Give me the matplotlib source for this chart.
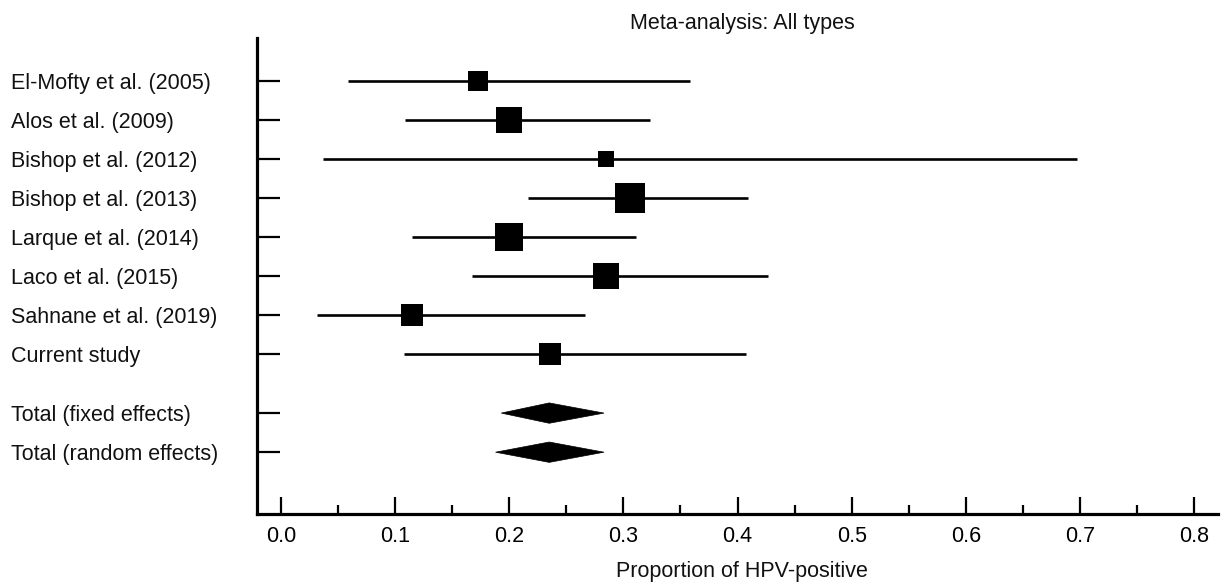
import matplotlib
matplotlib.use("Agg")
import matplotlib.pyplot as plt
from matplotlib.patches import Polygon
from matplotlib import transforms
import numpy as np

plt.rcParams['font.family'] = ['Liberation Sans', 'DejaVu Sans']

# Individual studies: proportion of HPV-positive cases with 95% CI
studies = [
    "El-Mofty et al. (2005)",
    "Alos et al. (2009)",
    "Bishop et al. (2012)",
    "Bishop et al. (2013)",
    "Larque et al. (2014)",
    "Laco et al. (2015)",
    "Sahnane et al. (2019)",
    "Current study",
]
estimates = [0.173, 0.200, 0.285, 0.306, 0.200, 0.285, 0.115, 0.236]
ci_low = [0.059, 0.109, 0.037, 0.216, 0.115, 0.167, 0.032, 0.108]
ci_high = [0.358, 0.323, 0.697, 0.409, 0.311, 0.427, 0.266, 0.407]
weights = [9.2, 14.9, 4.7, 19.7, 16.7, 13.4, 10.7, 10.7]  # relative weight, %

# Pooled estimates
pooled_labels = ["Total (fixed effects)", "Total (random effects)"]
pooled_est = [0.235, 0.235]
pooled_low = [0.193, 0.188]
pooled_high = [0.283, 0.283]

title = "Meta-analysis: All types"
xlabel = "Proportion of HPV-positive"

W, H = 1224, 588
fig = plt.figure(figsize=(W / 100, H / 100), dpi=100)
ax = fig.add_axes([257 / W, 1 - 514 / H, (1218 - 257) / W, (514 - 38) / H])

study_rows = np.arange(len(studies))
pooled_rows = len(studies) + 0.5 + np.arange(len(pooled_labels))

FS = 15.5

# Confidence interval lines and weight-scaled squares
for y, est, lo, hi, w in zip(study_rows, estimates, ci_low, ci_high, weights):
    ax.plot([lo, hi], [y, y], color='black', lw=1.9, solid_capstyle='butt', zorder=2)
    side_px = 6.92 * np.sqrt(w)
    ax.plot([est], [y], marker='s', color='black', markersize=side_px * 0.72,
            markeredgewidth=0, linestyle='none', zorder=3)

# Pooled-estimate diamonds
half_h = 0.26
for y, est, lo, hi in zip(pooled_rows, pooled_est, pooled_low, pooled_high):
    diamond = Polygon([(lo, y), (est, y - half_h), (hi, y), (est, y + half_h)],
                      closed=True, facecolor='black', edgecolor='black', lw=0.5, zorder=3)
    ax.add_patch(diamond)

ax.set_xlim(-0.021, 0.8209)
ax.set_ylim(11.08, -1.09)

# Axes styling
for side in ('top', 'right'):
    ax.spines[side].set_visible(False)
for side in ('left', 'bottom'):
    ax.spines[side].set_linewidth(2.3)

ax.set_xticks(np.arange(0, 0.81, 0.1))
ax.set_xticklabels([f"{v:.1f}" for v in np.arange(0, 0.81, 0.1)], fontsize=FS)
ax.set_xticks(np.arange(0.05, 0.8, 0.1), minor=True)
ax.tick_params(axis='x', which='major', direction='in', length=12.5, width=1.6, pad=9)
ax.tick_params(axis='x', which='minor', direction='in', length=6.5, width=1.6)

all_rows = list(study_rows) + list(pooled_rows)
ax.set_yticks(all_rows)
ax.set_yticklabels([])
ax.tick_params(axis='y', which='major', direction='in', length=16.5, width=1.6)

# Row labels, left-aligned at the figure margin
label_tf = transforms.blended_transform_factory(fig.transFigure, ax.transData)
label_tf = transforms.offset_copy(label_tf, fig=fig, x=0, y=-8, units='dots')
for y, name in zip(all_rows, studies + pooled_labels):
    ax.text(11 / W, y, name, transform=label_tf, ha='left', va='baseline',
            fontsize=FS, color='#111111')

fig.text(742 / W, 1 - 29 / H, title, ha='center', va='baseline', fontsize=FS, color='#111111')
fig.text(742 / W, 1 - 577 / H, xlabel, ha='center', va='baseline', fontsize=FS, color='#111111')

fig.savefig("out.png", dpi=100, facecolor='white')
